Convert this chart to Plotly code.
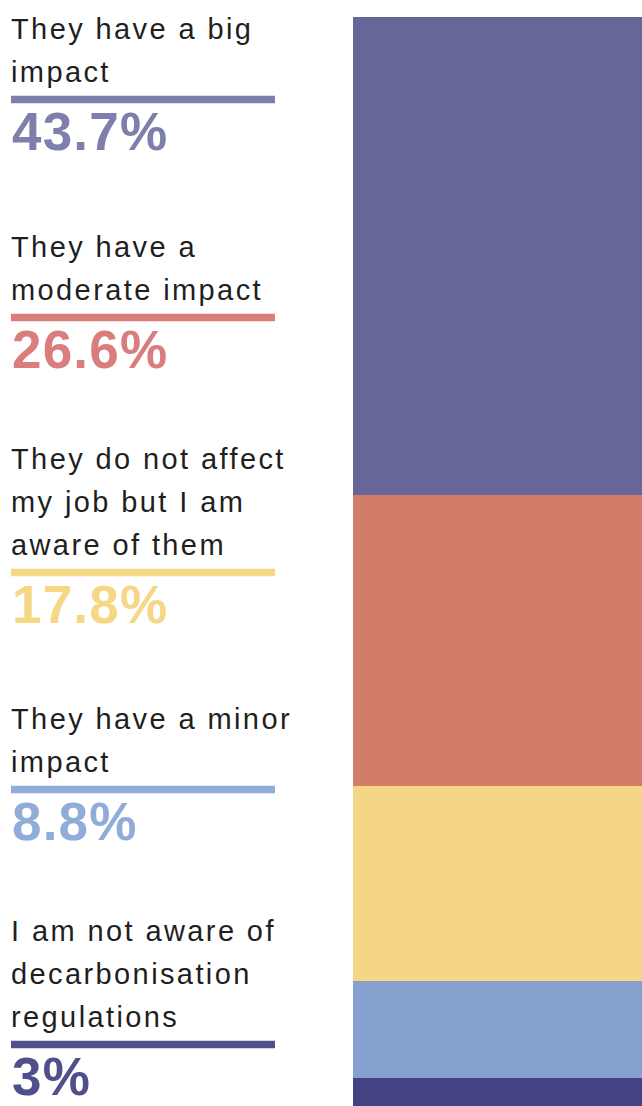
import plotly.graph_objects as go

# Survey answers, top to bottom of the stacked bar
categories = [
    "They have a big<br>impact",
    "They have a<br>moderate impact",
    "They do not affect<br>my job but I am<br>aware of them",
    "They have a minor<br>impact",
    "I am not aware of<br>decarbonisation<br>regulations",
]
shares = [43.7, 26.6, 17.8, 8.8, 3]
pct_labels = ["43.7%", "26.6%", "17.8%", "8.8%", "3%"]

bar_colors = ["#676699", "#d17d68", "#f5d586", "#86a0d0", "#454284"]
key_colors = ["#7f7fad", "#d97d7d", "#f5d785", "#8fadd8", "#4f4f8c"]

W, H = 642, 1106
FONT = "Liberation Sans, Arial, Helvetica, sans-serif"
TEXT_COLOR = "#1f1f1f"

fig = go.Figure()

# Stacked bar built from cumulative bases
base = 0.0
for name, val, col in zip(categories, shares, bar_colors):
    fig.add_trace(go.Bar(
        x=[0], y=[val], base=[base], width=1,
        marker=dict(color=col, line=dict(width=0)),
        name=name.replace("<br>", " "),
        hoverinfo="skip",
        showlegend=False,
    ))
    base += val

# Left-hand key: wrapped label, coloured rule, big percentage
first_baseline = [39, 257, 469, 729, 941]   # px from top
line_pitch = 43
rule_gap = 17.5
pct_gap = 50
label_size = 29
pct_size = 53


def py(px):
    return 1 - px / H


def px_x(px):
    return px / W


annotations = []
shapes = []
for i, (label, pct, kcol) in enumerate(zip(categories, pct_labels, key_colors)):
    lines = label.split("<br>")
    b = first_baseline[i]
    for j, line in enumerate(lines):
        baseline = b + j * line_pitch
        annotations.append(dict(
            text=f'<span style="letter-spacing:2.4px">{line}</span>',
            xref="paper", yref="paper",
            x=px_x(11), y=py(baseline + 0.212 * label_size),
            xanchor="left", yanchor="bottom",
            showarrow=False, borderpad=0, borderwidth=0,
            font=dict(family=FONT, size=label_size, color=TEXT_COLOR),
        ))
    last = b + (len(lines) - 1) * line_pitch
    rule_c = last + rule_gap
    shapes.append(dict(
        type="rect", xref="paper", yref="paper",
        x0=px_x(11), x1=px_x(275), y0=py(rule_c + 3.8), y1=py(rule_c - 3.8),
        fillcolor=kcol, line=dict(width=0), layer="above",
    ))
    pct_base = rule_c + pct_gap
    annotations.append(dict(
        text=f'<span style="letter-spacing:1.2px"><b>{pct}</b></span>',
        xref="paper", yref="paper",
        x=px_x(12), y=py(pct_base + 0.212 * pct_size),
        xanchor="left", yanchor="bottom",
        showarrow=False, borderpad=0, borderwidth=0,
        font=dict(family=FONT, size=pct_size, color=kcol),
    ))

fig.update_layout(
    width=W, height=H,
    margin=dict(l=0, r=0, t=0, b=0),
    paper_bgcolor="white", plot_bgcolor="white",
    barmode="overlay",
    bargap=0,
    xaxis=dict(domain=[353 / W, 1], range=[-0.5, 0.5], visible=False, fixedrange=True),
    yaxis=dict(domain=[0, 1 - 17 / H], range=[99.5, 0], visible=False, fixedrange=True),
    annotations=annotations,
    shapes=shapes,
)

fig.write_html("out.html", config={"displayModeBar": False})
